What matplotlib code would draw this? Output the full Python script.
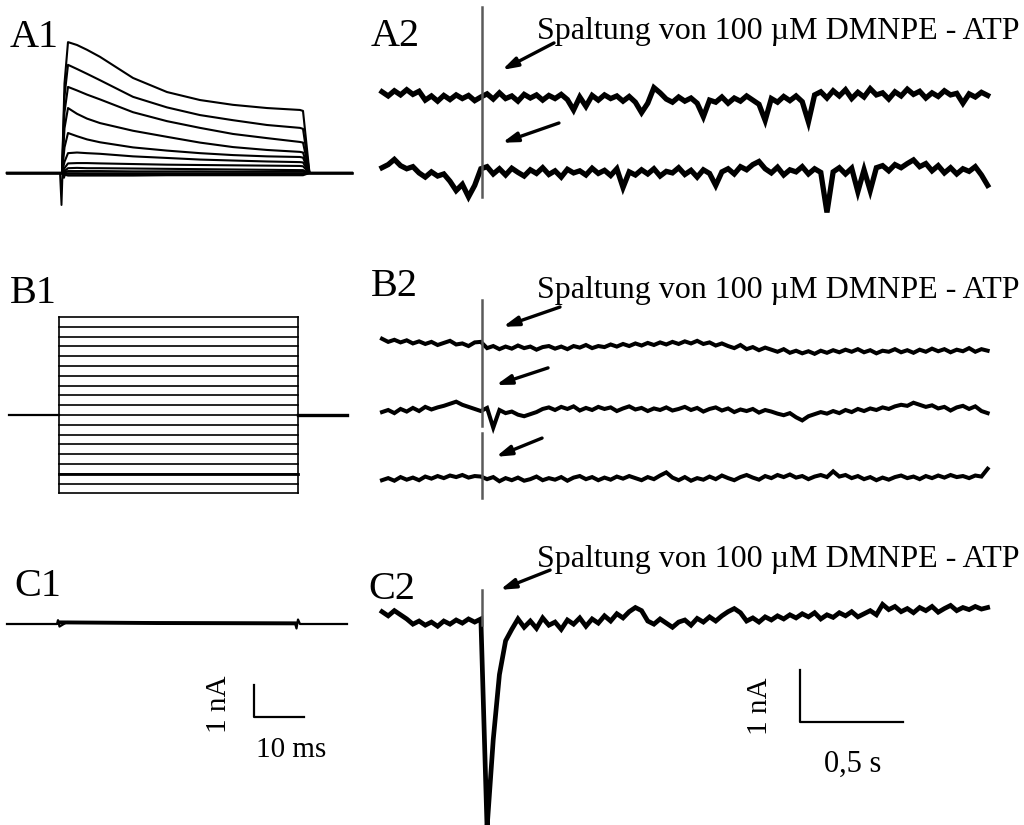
import matplotlib
matplotlib.use("Agg")
import matplotlib.pyplot as plt
import numpy as np

plt.rcParams["font.family"] = ["Liberation Serif", "DejaVu Serif"]

W, H = 1024, 825

# ---------------- data ----------------
# A1: K+ current family (ms, nA)
T_A1 = [-11, 0, 0.5, 1.2, 3, 5, 7.6, 14.2, 21, 27.6, 34.2, 41, 47.6, 48.2, 49.5, 58]
I_A1 = [
    [0, 0, 2.8, 4.09, 4.00, 3.85, 3.63, 2.97, 2.53, 2.28, 2.13, 2.03, 1.97, 1.94, 0, 0],
    [0, 0, 2.4, 3.38, 3.25, 3.10, 2.90, 2.38, 2.05, 1.81, 1.65, 1.50, 1.41, 1.38, 0, 0],
    [0, 0, 1.9, 2.69, 2.58, 2.45, 2.30, 1.90, 1.62, 1.41, 1.22, 1.09, 0.97, 0.95, 0, 0],
    [0, 0, 1.4, 2.03, 1.85, 1.70, 1.56, 1.32, 1.13, 0.95, 0.81, 0.72, 0.66, 0.64, 0, 0],
    [0, 0, 0.8, 1.25, 1.15, 1.05, 0.96, 0.80, 0.70, 0.62, 0.56, 0.52, 0.50, 0.48, 0, 0],
    [0, 0, 0.35, 0.62, 0.64, 0.62, 0.60, 0.52, 0.47, 0.42, 0.39, 0.36, 0.34, 0.33, 0, 0],
    [0, 0, 0.15, 0.30, 0.31, 0.31, 0.30, 0.28, 0.26, 0.25, 0.24, 0.23, 0.22, 0.21, 0, 0],
    [0, 0, 0.06, 0.15, 0.16, 0.15, 0.15, 0.14, 0.13, 0.12, 0.11, 0.10, 0.09, 0.09, 0, 0],
    [0, 0, 0.04, 0.06, 0.06, 0.06, 0.06, 0.05, 0.05, 0.05, 0.04, 0.04, 0.04, 0.04, 0, 0],
    [0, 0, 0.0, -0.02, -0.02, -0.03, -0.03, -0.03, -0.03, -0.03, -0.03, -0.03, -0.03, -0.03, 0, 0],
    [0, 0, -0.05, -0.08, -0.08, -0.08, -0.08, -0.08, -0.07, -0.07, -0.07, -0.07, -0.07, -0.07, 0, 0],
]
T_SPIKE = [-0.4, -0.1, 0.15, 0.4, 0.7]
I_SPIKE = [0, -1.0, 0.2, -0.15, 0]

# B1: voltage step protocol (mV relative to holding)
B1_LEVELS = [100, 90, 80, 70, 60, 50, 40, 30, 20, 10, 0,
             -10, -20, -30, -40, -50, -60, -70, -80]
B1_T = [-10, 0, 47.8, 57.5]

# C1: current trace in the same protocol (ms, nA)
T_C1 = [-10, 0, 0.2, 0.5, 2, 20, 47.6, 47.9, 48.2, 48.6, 58]
I_C1 = [0, 0, 0.12, -0.08, 0.06, 0.04, 0.03, -0.14, 0.14, 0, 0]

# right column: recordings, sampled every 30 ms (nA)
DT = 0.03
FLASH_T = 0.485
A2_1 = [0.10, 0.02, 0.12, 0.04, 0.14, 0.05, 0.11,
        -0.06, 0.02, -0.08, 0.03, -0.05, 0.04, -0.03, 0.03, -0.07,
        0.00,
        0.06, -0.04, 0.08, -0.03, 0.02, -0.08, 0.05, -0.02, 0.04, -0.06, 0.03, -0.03, 0.05, -0.05,
        -0.25, 0.0, -0.18,
        0.03, -0.06, 0.04, -0.03, 0.02, -0.08, 0.01, -0.10,
        -0.30, -0.12,
        0.18, 0.08,
        -0.04, -0.10, 0.0, -0.08, -0.02, -0.12,
        -0.38,
        -0.06, -0.10, 0.0, -0.12, -0.02, -0.08, 0.02, -0.06, -0.14,
        -0.45,
        -0.03, -0.10, 0.01, -0.07, 0.02, -0.09,
        -0.48,
        0.04, 0.10, -0.02, 0.12, 0.02, 0.14, -0.03, 0.09, 0.0, 0.16, 0.04, 0.08, -0.04, 0.10,
        0.02, 0.15, 0.05, 0.11, -0.02, 0.08, 0.01, 0.12, 0.04, 0.07, -0.12, 0.06, 0.0, 0.09, 0.03]
A2_2 = [0.04, 0.10, 0.20, 0.08, 0.02, 0.06,
        -0.06, -0.14, -0.04, -0.12, -0.08,
        -0.22, -0.40, -0.28, -0.52, -0.30,
        0.02,
        0.06, -0.08, 0.02, -0.10, 0.03, -0.05, -0.12, 0.0, -0.07, 0.04, -0.09, -0.02, -0.14, 0.01,
        -0.06, -0.02, -0.10, 0.03, -0.07, -0.01, -0.11, 0.02,
        -0.34,
        -0.04, -0.10, 0.0, -0.08, 0.02, -0.12, -0.03, -0.06, 0.04, -0.09, -0.01, -0.14, 0.0, -0.07,
        -0.30,
        -0.04, 0.02, -0.08, 0.06, 0.0, 0.10,
        0.16,
        0.02, -0.06, 0.05, -0.10, 0.0, -0.04, 0.06, -0.08, 0.02, -0.05,
        -0.82,
        -0.04, 0.04, -0.08, 0.03,
        -0.42, 0.0, -0.40,
        0.04, 0.08, -0.02, 0.10, 0.04, 0.12,
        0.19,
        0.06, 0.12, -0.02, 0.08, -0.06, 0.04, -0.08, 0.02, -0.03, 0.06, -0.10,
        -0.30]
B2_1 = [0.12, 0.06, 0.10, 0.05, 0.09, 0.03, 0.07, 0.02, 0.06, 0.0, 0.04, 0.08, 0.01, 0.03, -0.02, 0.05,
        0.06,
        -0.06, -0.02, -0.08, -0.03, -0.07, -0.01, -0.06, -0.03, -0.09, -0.04, -0.02, -0.07, -0.03,
        -0.08, -0.02, -0.05, 0.0, -0.06, -0.02,
        -0.04, 0.01, -0.03, 0.02, -0.02, 0.03, -0.01, 0.04, 0.0, 0.05, 0.01, 0.06, 0.02, 0.07, 0.03,
        0.08, 0.02, 0.05, -0.01, 0.03,
        -0.02, -0.06, 0.0, -0.08, -0.04, -0.10, -0.05, -0.09, -0.13, -0.08, -0.15, -0.11, -0.16,
        -0.12, -0.17, -0.11, -0.15, -0.10, -0.14, -0.09,
        -0.13, -0.08, -0.14, -0.10, -0.16, -0.11, -0.13, -0.08, -0.14, -0.10, -0.15, -0.09, -0.13,
        -0.07, -0.12, -0.08, -0.14, -0.09, -0.12, -0.06, -0.13, -0.08, -0.11]
B2_2 = [-0.04, 0.0, -0.06, 0.02, -0.03, 0.04, -0.02, 0.06, 0.01, 0.05,
        0.08, 0.12, 0.16, 0.10, 0.06, 0.02,
        -0.02, 0.04, -0.34,
        0.0, -0.06, -0.03, -0.09, -0.12, -0.08, -0.04, 0.02,
        0.05, 0.0, 0.06, 0.02, 0.07, -0.01, 0.04, 0.0, 0.06, 0.02, 0.05, -0.02, 0.03, 0.07, 0.01,
        0.04, -0.02, 0.03, 0.0, 0.05, -0.01, 0.02, 0.06, 0.0, 0.04, -0.03, 0.02, 0.05, -0.01, 0.03,
        -0.04, 0.01, -0.02, 0.02, -0.05, 0.0, -0.03, -0.07,
        -0.10, -0.06, -0.14, -0.20, -0.12, -0.08, -0.04,
        -0.07, -0.02, -0.06, 0.0, -0.04, 0.02, -0.02, 0.03, 0.0, 0.05, 0.02, 0.07,
        0.10, 0.08, 0.14, 0.10, 0.06, 0.09,
        0.03, 0.06, -0.01, 0.05, 0.08, 0.02, 0.07, -0.02, -0.06]
B2_3 = [-0.04, 0.0, -0.05, 0.02, -0.03, 0.01, -0.04, 0.03, -0.01, 0.04, 0.0, 0.05, 0.02, 0.06,
        0.01, 0.04, 0.03, -0.02, 0.02, -0.06, 0.0, -0.04, 0.01, -0.05, -0.02, 0.03, -0.04, 0.0,
        -0.03, 0.02, -0.05, 0.01, 0.04, -0.02, 0.02, -0.04, 0.01, -0.03, 0.03, -0.01, 0.04, 0.0,
        -0.04, 0.02, -0.02, 0.05,
        0.11,
        0.01, -0.04, 0.02, -0.05, 0.0, -0.03, 0.03, -0.02, 0.05, 0.0, -0.04, 0.02, 0.06, 0.01,
        -0.03, 0.04, 0.0, 0.06, 0.02, 0.07, 0.01, 0.04, -0.02, 0.03, 0.06, 0.02,
        0.13,
        0.03, 0.06, 0.0, 0.04, -0.02, 0.02, -0.04, 0.01, -0.03, 0.02, 0.05, 0.0, 0.03, -0.02,
        0.04, 0.0, 0.05, 0.01, 0.06, 0.02, 0.04, 0.0, 0.05, 0.03,
        0.18]
C2_1 = [0.16, 0.08, 0.18, 0.10, 0.02, -0.08, -0.02, -0.10, -0.04, -0.12, -0.02, -0.08, 0.0,
        -0.06, 0.02, -0.04,
        0.02, -4.0, -2.3, -1.05, -0.40, -0.18,
        0.02, -0.14, -0.02, -0.16, 0.04, -0.10, -0.04, -0.18, 0.0, -0.08, 0.04, -0.12, 0.02,
        -0.06, 0.08, -0.02, 0.12, 0.04, 0.16,
        0.24, 0.18,
        -0.02, -0.08, 0.02, -0.06, -0.14, -0.04, 0.0, -0.10, 0.03, -0.04, 0.06, -0.02, 0.08,
        0.16, 0.22, 0.14,
        -0.02, 0.04, -0.04, 0.06, 0.0, 0.08, 0.02, 0.10,
        0.04, 0.12, 0.06, 0.14, 0.02, 0.10, 0.05, 0.14, 0.08, 0.16, 0.06, 0.12, 0.18, 0.10,
        0.30,
        0.20, 0.26, 0.16, 0.22, 0.14, 0.24, 0.18, 0.26, 0.15, 0.22, 0.28, 0.18, 0.24, 0.20,
        0.26, 0.21, 0.24]

LABEL = "Spaltung von 100 \u00b5M DMNPE - ATP"

# ---------------- layout ----------------
fig = plt.figure(figsize=(W / 100, H / 100), dpi=100)
fig.patch.set_facecolor("white")


def panel(box, origin, px_t, px_v):
    x0, y0, x1, y1 = box
    ox, oy = origin
    ax = fig.add_axes([x0 / W, 1 - y1 / H, (x1 - x0) / W, (y1 - y0) / H])
    t_left = (x0 - ox) / px_t
    v_top = (oy - y0) / px_v
    ax.set_xlim(t_left, t_left + (x1 - x0) / px_t)
    ax.set_ylim(v_top - (y1 - y0) / px_v, v_top)
    ax.axis("off")
    return ax


def ftext(x, y, s, **kw):
    fig.text(x / W, 1 - y / H, s, **kw)


ax_a1 = panel((0, 0, 360, 240), (62, 173), 5, 32)
ax_b1 = panel((0, 255, 360, 520), (59, 415), 5, 0.98)
ax_c1 = panel((0, 555, 360, 825), (57, 624), 5, 32)
ax_a2 = panel((370, 0, 1024, 240), (382, 97), 206, 52)
ax_b2 = panel((370, 255, 1024, 520), (382, 345), 206, 52)
ax_c2 = panel((370, 555, 1024, 825), (382, 620), 206, 52)

# A1
for tr in I_A1:
    ax_a1.plot(T_A1, tr, color="black", lw=1.5, clip_on=False)
ax_a1.plot(T_SPIKE, I_SPIKE, color="black", lw=1.4)
ax_a1.plot([T_A1[0], T_A1[-1]], [0, 0], color="black", lw=1.8)

# B1
t_on, t_off = B1_T[1], B1_T[2]
for lv in B1_LEVELS:
    ax_b1.plot([t_on, t_off], [lv, lv], color="black", lw=1.2)
ax_b1.plot([t_on, t_on], [min(B1_LEVELS), max(B1_LEVELS)], color="black", lw=1.2)
ax_b1.plot([t_off, t_off], [min(B1_LEVELS), max(B1_LEVELS)], color="black", lw=1.2)
ax_b1.plot([B1_T[0], t_on], [0, 0], color="black", lw=1.6)
ax_b1.plot([t_off, B1_T[3]], [0, 0], color="black", lw=2.4)
ax_b1.plot([t_on, t_off], [-60, -60], color="black", lw=2.0)

# C1
ax_c1.plot(T_C1, I_C1, color="black", lw=1.6)
ax_c1.plot([0.6, 20, 47.6], [0.05, 0.03, 0.02], color="black", lw=2.8)

# right-hand recordings
flash_col = "#5a5a5a"
specs = [
    (ax_a2, 3.8, [(A2_1, 0.0), (A2_2, -1.40)], [(1.73, -1.92)]),
    (ax_b2, 2.9, [(B2_1, 0.0), (B2_2, -1.25), (B2_3, -2.56)], [(0.86, -1.55), (-1.69, -2.94)]),
    (ax_c2, 3.4, [(C2_1, 0.0)], [(0.58, -0.1)]),
]
for ax, lw, traces, flashes in specs:
    for vals, off in traces:
        t = np.arange(len(vals)) * DT
        ax.plot(t, np.array(vals) + off, color="black", lw=lw,
                solid_joinstyle="miter", clip_on=False)
    for top, bot in flashes:
        ax.plot([FLASH_T, FLASH_T], [bot, top], color=flash_col, lw=1.8)

# arrows (tail -> head in data units of each panel)
arrows = [
    (ax_a2, (0.835, 1.04), (0.583, 0.52)),
    (ax_a2, (0.859, -0.50), (0.583, -0.88)),
    (ax_b2, (0.864, 0.73), (0.587, 0.35)),
    (ax_b2, (0.806, -0.44), (0.553, -0.77)),
    (ax_b2, (0.777, -1.79), (0.553, -2.15)),
    (ax_c2, (0.816, 0.96), (0.573, 0.58)),
]
for ax, tail, head in arrows:
    ax.annotate("", xy=head, xytext=tail,
                arrowprops=dict(arrowstyle="-|>,head_length=0.9,head_width=0.28",
                                color="black", lw=2.4, shrinkA=0, shrinkB=0))

# scale bars
ax_c1.plot([39.4, 39.4, 39.4 + 10], [-2.906 + 1, -2.906, -2.906], color="black", lw=1.6)
ax_c2.plot([2.029, 2.029, 2.029 + 0.5], [-1.96 + 1, -1.96, -1.96], color="black", lw=1.6)
ftext(219, 704, "1 nA", rotation=90, ha="center", va="center", fontsize=21)
ftext(291, 750, "10 ms", ha="center", va="center", fontsize=21)
ftext(760, 706, "1 nA", rotation=90, ha="center", va="center", fontsize=21)
ftext(853, 764, "0,5 s", ha="center", va="center", fontsize=22)

# panel labels and annotations
for s, x, y in [("A1", 10, 47), ("A2", 371, 46), ("B1", 10, 303), ("B2", 371, 296),
                ("C1", 14, 596), ("C2", 368, 599)]:
    ftext(x, y, s, ha="left", va="baseline", fontsize=29)
for y in [39, 298, 567]:
    ftext(537, y, LABEL, ha="left", va="baseline", fontsize=23)

fig.savefig("out.png", dpi=100, facecolor="white")
